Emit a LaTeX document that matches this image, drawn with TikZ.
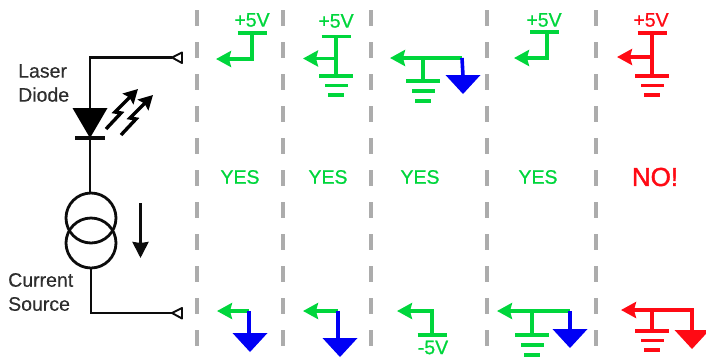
\documentclass[tikz,border=0pt]{standalone}
\usepackage{fontspec}
\setmainfont{Liberation Sans}
\newfontfamily\heavier[FakeBold=0.8]{Liberation Sans}
\newfontfamily\heaviest[FakeBold=1.6]{Liberation Sans}
\newfontfamily\mildfont[FakeBold=0.3]{Liberation Sans}
\usetikzlibrary{arrows.meta,calc}
\definecolor{okgreen}{RGB}{0,214,60}
\definecolor{badred}{RGB}{255,10,20}
\definecolor{sinkblue}{RGB}{0,0,245}
\definecolor{sepgray}{RGB}{172,172,172}
\definecolor{inkblack}{RGB}{12,12,12}
\newcommand{\gndsym}[3]{%
  \draw[#1,line width=3.6] ($(#2)+(-17,0)$) -- ($(#2)+(17,0)$);
  \draw[#1,line width=3.6] ($(#2)+(-11,#3)$) -- ($(#2)+(12,#3)$);
  \draw[#1,line width=3.6] ($(#2)+(-8,2*#3)$) -- ($(#2)+(8,2*#3)$);}
\newcommand{\railsym}[2]{\draw[#1,line width=3.6] ($(#2)+(-14.5,0)$) -- ($(#2)+(14.5,0)$);}
\newcommand{\sinktip}[2]{\fill[#1] ($(#2)+(-17.5,-1)$) -- ($(#2)+(17.5,-1)$) -- ($(#2)+(0,18)$) -- cycle;}
\newcommand{\flash}[1]{%
  \draw[black,line width=3.4,line join=miter,-{Stealth[length=14,width=15,inset=2]}]
    ($(#1)+(0,0)$) -- ($(#1)+(15,-16)$) -- ($(#1)+(9,-17)$) -- ($(#1)+(32,-40)$);}
\tikzset{
  wire/.style={inkblack,line width=2.8},
  sep/.style={sepgray,line width=3.2,dash pattern=on 16 off 16},
  lbl/.style={font=\mildfont\fontsize{19.5}{24}\selectfont,inkblack,align=left,inner sep=0,anchor=west,text opacity=.85},
  volt/.style={font=\heavier\fontsize{19.5}{22}\selectfont,inner sep=0},
  sig/.style={line width=3.6,-{Stealth[length=15,width=16,inset=2]}},
  lead/.style={line width=3.6},
  port/.style={draw=inkblack,line width=1.9,fill=white,line join=round},
  srcring/.style={circle,draw=inkblack,line width=2.8,minimum size=50,inner sep=0},
}
\begin{document}
\begin{tikzpicture}[x=1pt,y=-1pt]
\useasboundingbox (0,0) rectangle (706,357);
% separators
\foreach \i/\xx in {a/197,b/283,c/371,d/487,e/596}{
  \coordinate (s\i t) at (\xx,10);
  \coordinate (s\i b) at (\xx,357);
  \draw[sep] (s\i t) -- (s\i b);
}
% laser circuit
\coordinate (portT) at (172,57.5);
\coordinate (cornerT) at (90,57.5);
\coordinate (anode) at (90,108);
\coordinate (cathode) at (90,138);
\coordinate (portB) at (172,313);
\coordinate (cornerB) at (91,313);
\node[srcring] (ringU) at (91,218) {};
\node[srcring] (ringL) at (91,243) {};
\draw[wire] (portT) -- (cornerT) -- (anode);
\fill[black] (72.5,108) -- (107.5,108) -- (cathode) -- cycle;
\draw[wire,line width=3.2] ($(cathode)+(-15,0)$) -- ($(cathode)+(15,0)$);
\draw[wire] (cathode) -- (ringU.north -| cathode);
\draw[wire] (ringL.south) -- (cornerB) -- (portB);
\draw[port] (portT) -- (182,52.5) -- (182,63) -- cycle;
\draw[port] (portB) -- (182,308) -- (182,318.5) -- cycle;
\flash{106,129}
\flash{121,135}
\coordinate (curT) at (140.5,203);
\coordinate (curB) at (140.5,258);
\draw[wire,-{Stealth[length=16,width=16,inset=1]}] (curT) -- (curB);
\node[lbl] (laser) at (18,83) {Laser\\Diode};
\node[lbl] (current) at (8,292) {Current\\Source};
% top row
\node[volt,okgreen] (v1) at (252,20) {+5V};
\coordinate (r1) at (252,33);
\railsym{okgreen}{r1}
\coordinate (c1) at (252,59);
\coordinate (t1) at (216,59);
\draw[okgreen,lead] (r1) -- (c1);
\draw[okgreen,sig] ($(c1)+(1.8,0)$) -- (t1);

\node[volt,okgreen] (v2) at (336,21) {+5V};
\coordinate (r2) at (336,36.5);
\railsym{okgreen}{r2}
\coordinate (g2) at (336,76);
\coordinate (j2) at (336,58.5);
\coordinate (t2) at (303,58.5);
\draw[okgreen,lead] (r2) -- (g2);
\gndsym{okgreen}{g2}{9.5}
\draw[okgreen,sig] (j2) -- (t2);

\coordinate (b3) at (462,58);
\coordinate (t3) at (390,58);
\coordinate (j3) at (423,58);
\coordinate (g3) at (423,81);
\coordinate (d3) at (463,76);
\draw[okgreen,sig] (b3) -- (t3);
\draw[okgreen,lead] (j3) -- (g3);
\gndsym{okgreen}{g3}{10}
\draw[sinkblue,lead] (b3) -- (d3);
\sinktip{sinkblue}{d3}

\node[volt,okgreen] (v4) at (544,20) {+5V};
\coordinate (r4) at (544.5,32);
\railsym{okgreen}{r4}
\coordinate (c4) at (547,58);
\coordinate (t4) at (514,58);
\draw[okgreen,lead] (r4 -| c4) -- (c4);
\draw[okgreen,sig] ($(c4)+(1.8,0)$) -- (t4);

\node[volt,badred] (v5) at (651,20) {+5V};
\coordinate (r5) at (652,33);
\railsym{badred}{r5}
\coordinate (g5) at (652,76);
\coordinate (j5) at (652,57);
\coordinate (t5) at (617,57);
\draw[badred,lead] (r5) -- (g5);
\gndsym{badred}{g5}{9.5}
\draw[badred,sig] (j5) -- (t5);
% verdicts
\node[volt,okgreen] (y1) at (240,177) {YES};
\node[volt,okgreen] (y2) at (328,177) {YES};
\node[volt,okgreen] (y3) at (420,177) {YES};
\node[volt,okgreen] (y4) at (538,177) {YES};
\node[volt,badred,font=\heaviest\fontsize{26}{28}\selectfont] (y5) at (655,177) {NO!};
% bottom row
\coordinate (bc1) at (249,311);
\coordinate (bt1) at (217,311);
\coordinate (bd1) at (250,334);
\draw[okgreen,sig] (bc1) -- (bt1);
\draw[sinkblue,lead] (bc1) -- (bc1 |- bd1);
\sinktip{sinkblue}{bd1}

\coordinate (bc2) at (338,311);
\coordinate (bt2) at (303,311);
\coordinate (bd2) at (340,339);
\draw[okgreen,sig] (bc2) -- (bt2);
\draw[sinkblue,lead] (bc2) -- (bc2 |- bd2);
\sinktip{sinkblue}{bd2}

\coordinate (bc3) at (432,311);
\coordinate (bt3) at (397,311);
\coordinate (br3) at (432,335);
\draw[okgreen,sig] ($(bc3)+(1.8,0)$) -- (bt3);
\draw[okgreen,lead] (bc3) -- (br3);
\railsym{okgreen}{br3}
\node[volt,okgreen] (v8) at (433,347.5) {-5V};

\coordinate (bc4) at (570,311);
\coordinate (bt4) at (497,311);
\coordinate (bj4) at (532,311);
\coordinate (bg4) at (532,335);
\coordinate (bd4) at (570,330);
\draw[okgreen,sig] (bc4) -- (bt4);
\draw[okgreen,lead] (bj4) -- (bg4);
\gndsym{okgreen}{bg4}{10}
\draw[sinkblue,lead] (bc4) -- (bd4);
\sinktip{sinkblue}{bd4}

\coordinate (bc5) at (692,310);
\coordinate (bt5) at (621,310);
\coordinate (bj5) at (652,310);
\coordinate (bg5) at (652,331);
\coordinate (bd5) at (692,331);
\draw[badred,sig] ($(bc5)+(1.8,0)$) -- (bt5);
\draw[badred,lead] (bj5) -- (bg5);
\gndsym{badred}{bg5}{9.5}
\draw[badred,lead] (bc5) -- (bd5);
\sinktip{badred}{bd5}
\end{tikzpicture}
\end{document}
